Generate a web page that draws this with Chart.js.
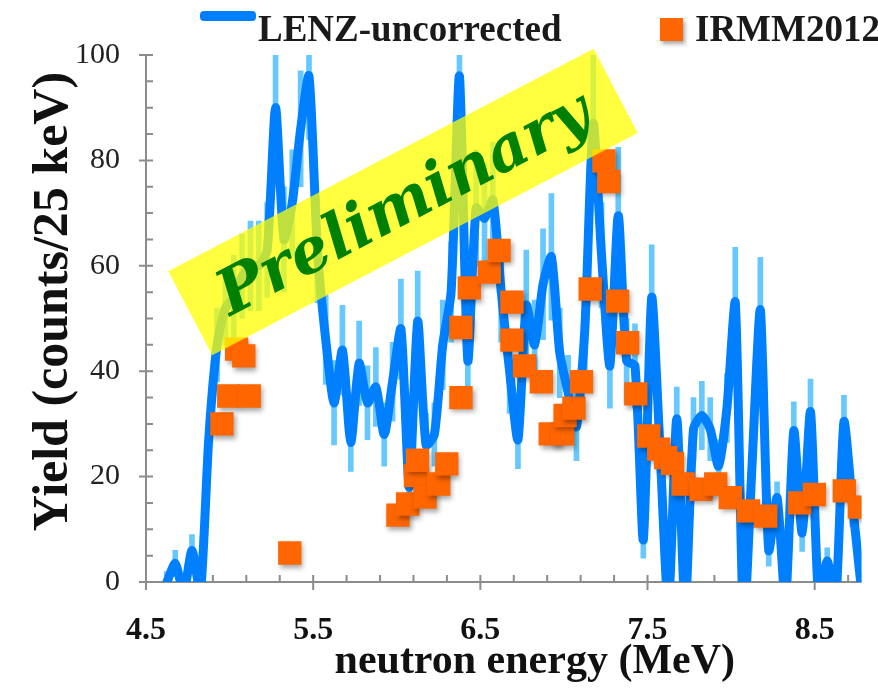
<!DOCTYPE html>
<html>
<head>
<meta charset="utf-8">
<script src="https://cdn.jsdelivr.net/npm/chart.js@4.4.1/dist/chart.umd.min.js"></script>
<style>
  html, body { margin: 0; padding: 0; background: #fff; }
  #wrap { position: relative; width: 878px; height: 688px; overflow: hidden; }
  #chart { position: absolute; left: 0; top: 0; }
  .lg-text { position: absolute; font-family: "Liberation Serif", serif; font-weight: bold; font-size: 37px; line-height: 37px; color: #1a1a1a; white-space: nowrap; }
  .lg-line { position: absolute; background: #0080ff; border-radius: 4px; }
  .lg-box { position: absolute; background: #ff6600; box-shadow: 2px 3px 4px rgba(0,0,0,0.35); }
</style>
</head>
<body>
<div id="wrap">
  <canvas id="chart" width="878" height="688"></canvas>
  <div class="lg-line" style="left:200px; top:11px; width:56px; height:10px;"></div>
  <div class="lg-text" style="left:258px; top:10px;">LENZ-uncorrected</div>
  <div class="lg-box" style="left:660px; top:18px; width:23px; height:23px;"></div>
  <div class="lg-text" style="left:695px; top:10px;">IRMM2012</div>
</div>
<script>
// LENZ spectrum, 50 keV steps (MeV)
const energy = [4.625,4.675,4.725,4.775,4.825,4.875,4.925,4.975,5.025,5.075,
    5.125,5.175,5.225,5.275,5.325,5.375,5.425,5.475,5.525,5.575,
    5.625,5.675,5.725,5.775,5.825,5.875,5.925,5.975,6.025,6.075,
    6.125,6.175,6.225,6.275,6.325,6.375,6.425,6.475,6.525,6.575,
    6.625,6.675,6.725,6.775,6.825,6.875,6.925,6.975,7.025,7.075,
    7.125,7.175,7.225,7.275,7.325,7.375,7.425,7.475,7.525,7.575,
    7.625,7.675,7.725,7.775,7.825,7.875,7.925,7.975,8.025,8.075,
    8.125,8.175,8.225,8.275,8.325,8.375,8.425,8.475,8.525,8.575,
    8.625,8.675,8.725,8.775];
const lenzYield = [0,3.5,-2,6,-2,27,45,52,54,58,
    60,60,63,90,65,72,86,96,63,46,
    34,44,26.5,41.5,34,37,28,38,48,18,
    49.5,26,28,45,55,96,42,71,69,72.5,
    55,40,27,52.5,45,56.5,61.7,43.5,36,29.5,
    48,87,62,41,69.5,42,41,8,54,25,
    -5,31,-5,29,31.6,29,22,33,53,-8,
    22,51.6,6,16,-4,28.7,9.3,32.3,-4,4,
    -4,30.4,15,0];
const lenzError = [2,2.5,2,3,2,5,7,7,8,8,
    8.5,8.5,9,12,10,10,11,12,10,8.5,
    8,8.5,5.5,8,7,7.5,6,7.5,9.5,5,
    9.5,6,6,8.5,9.5,13,8,11,10.5,11,
    9.5,8,5.5,10.5,8.5,10.5,12,8.5,7,6.5,
    9,14,10,8,13,8,8,3.5,10,6,
    2,6,2,6,6.5,6,5,6.5,10.5,2,
    5,10,3,3,2,5.5,3.5,6.2,2,2.5,
    2,5,4.5,2];

// IRMM2012 points
const irmmEnergy = [4.954,4.995,5.042,5.085,5.118,5.360,6.007,6.065,6.112,6.124,
    6.169,6.251,6.299,6.384,6.384,6.434,6.553,6.612,6.689,6.689,
    6.764,6.865,6.918,6.992,7.007,7.060,7.105,7.157,7.239,7.268,
    7.321,7.381,7.430,7.507,7.567,7.609,7.649,7.713,7.820,7.908,
    7.995,8.103,8.207,8.410,8.498,8.677,8.767];
const irmmYield = [30,35.3,44.2,42.9,35.3,5.5,12.7,14.8,20.2,23.1,
    16.1,18.6,22.4,35,48.3,55.8,58.8,62.9,53.1,45.9,
    41,38,28.1,28.1,31.6,33,38,55.6,79.9,76,
    53.3,45.4,35.7,27.7,25.2,23.6,22.5,18.6,17.6,18.6,
    16,13.5,12.5,15,16.6,17.3,14.2];

const xTickValues = [4.5, 5.5, 6.5, 7.5, 8.5];
const yTickValues = [0, 20, 40, 60, 80, 100];
const xMinorStep = 0.2;
const yMinorStep = 5;
const xTitle = 'neutron energy (MeV)';
const yTitle = 'Yield (counts/25 keV)';

const serif = '"Liberation Serif", "Times New Roman", serif';

const lineData = energy.map((e, i) => ({x: e, y: lenzYield[i]}));
const errData = energy.map((e, i) => ({x: e, y: [lenzYield[i] - lenzError[i], lenzYield[i] + lenzError[i]]}));
const irmmData = irmmEnergy.map((e, i) => ({x: e, y: irmmYield[i]}));

// axis line + ticks (major cross the axis, minor inside)
const axesPlugin = {
    id: 'axes',
    beforeDatasetsDraw(chart) {
        const {ctx, chartArea: a, scales: {x, y}} = chart;
        ctx.save();
        ctx.strokeStyle = '#8c8c8c';
        ctx.lineWidth = 2;
        ctx.beginPath();
        ctx.moveTo(a.left, a.top);
        ctx.lineTo(a.left, a.bottom);
        ctx.lineTo(a.right, a.bottom);
        for (let k = 0; ; k++) {
            const v = y.min + k * yMinorStep;
            if (v > y.max + 1e-9) break;
            const py = y.getPixelForValue(v);
            const major = yTickValues.some(t => Math.abs(t - v) < 1e-6);
            ctx.moveTo(a.left - (major ? 7 : 0), py);
            ctx.lineTo(a.left + 7, py);
        }
        for (let k = 0; ; k++) {
            const v = x.min + k * xMinorStep;
            if (v > x.max + 1e-9) break;
            const px = x.getPixelForValue(v);
            const major = xTickValues.some(t => Math.abs(t - v) < 1e-6);
            ctx.moveTo(px, a.bottom - 7);
            ctx.lineTo(px, a.bottom + (major ? 8 : 0));
        }
        ctx.stroke();
        ctx.restore();
    }
};

// drop shadow under the orange squares
const shadowPlugin = {
    id: 'squareShadow',
    beforeDatasetDraw(chart, args) {
        if (args.meta.type !== 'scatter') return;
        const ctx = chart.ctx;
        ctx.save();
        ctx.shadowColor = 'rgba(0,0,0,0.35)';
        ctx.shadowBlur = 5;
        ctx.shadowOffsetX = 2;
        ctx.shadowOffsetY = 3;
    },
    afterDatasetDraw(chart, args) {
        if (args.meta.type !== 'scatter') return;
        chart.ctx.restore();
    }
};

// axis titles (the originals sit a bit off-centre)
const titlePlugin = {
    id: 'titles',
    afterDraw(chart) {
        const {ctx, chartArea: a} = chart;
        ctx.save();
        ctx.fillStyle = '#111';
        ctx.textAlign = 'center';
        ctx.textBaseline = 'alphabetic';
        ctx.font = 'bold 42px ' + serif;
        ctx.fillText(xTitle, (a.left + a.right) / 2 + 31, 673);
        ctx.translate(67, (a.top + a.bottom) / 2 - 17);
        ctx.rotate(-Math.PI / 2);
        ctx.font = 'bold 50px ' + serif;
        ctx.fillText(yTitle, 0, 0);
        ctx.restore();
    }
};

// the yellow "Preliminary" stamp
const bannerText = 'Preliminary';
const bannerAt = {x: 6.037, y: 72.1};
const bannerPlugin = {
    id: 'banner',
    afterDraw(chart) {
        const {ctx, scales: {x, y}} = chart;
        ctx.save();
        ctx.translate(x.getPixelForValue(bannerAt.x), y.getPixelForValue(bannerAt.y));
        ctx.rotate(-27.6 * Math.PI / 180);
        ctx.fillStyle = 'rgba(255,255,0,0.75)';
        ctx.fillRect(-240, -47.5, 480, 95);
        ctx.font = 'italic bold 60px "DejaVu Serif"';
        const size = 60 * 412 / ctx.measureText(bannerText).width;
        ctx.font = 'italic bold ' + size + 'px "DejaVu Serif"';
        ctx.fillStyle = '#008000';
        ctx.textAlign = 'center';
        ctx.textBaseline = 'middle';
        ctx.fillText(bannerText, 0, 5);
        ctx.restore();
    }
};

const ctx = document.getElementById('chart').getContext('2d');

new Chart(ctx, {
    type: 'scatter',
    data: {
        datasets: [
            {
                type: 'scatter',
                label: 'IRMM2012',
                data: irmmData,
                pointStyle: 'rect',
                pointRadius: 16.5,
                pointBorderWidth: 0,
                borderWidth: 0,
                backgroundColor: '#ff6600',
                order: 1
            },
            {
                type: 'line',
                label: 'LENZ-uncorrected',
                data: lineData,
                borderColor: '#0080ff',
                borderWidth: 9,
                pointRadius: 0,
                tension: 0.22,
                borderJoinStyle: 'round',
                borderCapStyle: 'round',
                fill: false,
                order: 2
            },
            {
                type: 'bar',
                label: 'error',
                data: errData,
                backgroundColor: '#66c8ff',
                barThickness: 5,
                grouped: false,
                order: 3
            }
        ]
    },
    options: {
        responsive: false,
        animation: false,
        layout: { padding: {top: 55, right: 0, bottom: 0, left: 0} },
        plugins: {
            legend: { display: false },
            tooltip: { enabled: false }
        },
        scales: {
            x: {
                type: 'linear',
                min: 4.5,
                max: 8.78,
                offset: false,
                grid: { display: false, drawTicks: false },
                border: { display: false },
                afterBuildTicks: s => { s.ticks = xTickValues.map(v => ({value: v})); },
                afterFit: s => { s.height = 106; },
                ticks: {
                    font: {family: serif, size: 32, weight: 'bold'},
                    color: '#111',
                    padding: 30,
                    maxRotation: 0,
                    autoSkip: false,
                    callback: v => Number(v).toFixed(1)
                }
            },
            y: {
                min: 0,
                max: 100,
                grid: { display: false, drawTicks: false },
                border: { display: false },
                afterBuildTicks: s => { s.ticks = yTickValues.map(v => ({value: v})); },
                afterFit: s => { s.width = 146; },
                ticks: {
                    font: {family: serif, size: 30},
                    color: '#222',
                    padding: 26
                }
            }
        }
    },
    plugins: [axesPlugin, shadowPlugin, titlePlugin, bannerPlugin]
});
</script>
</body>
</html>
